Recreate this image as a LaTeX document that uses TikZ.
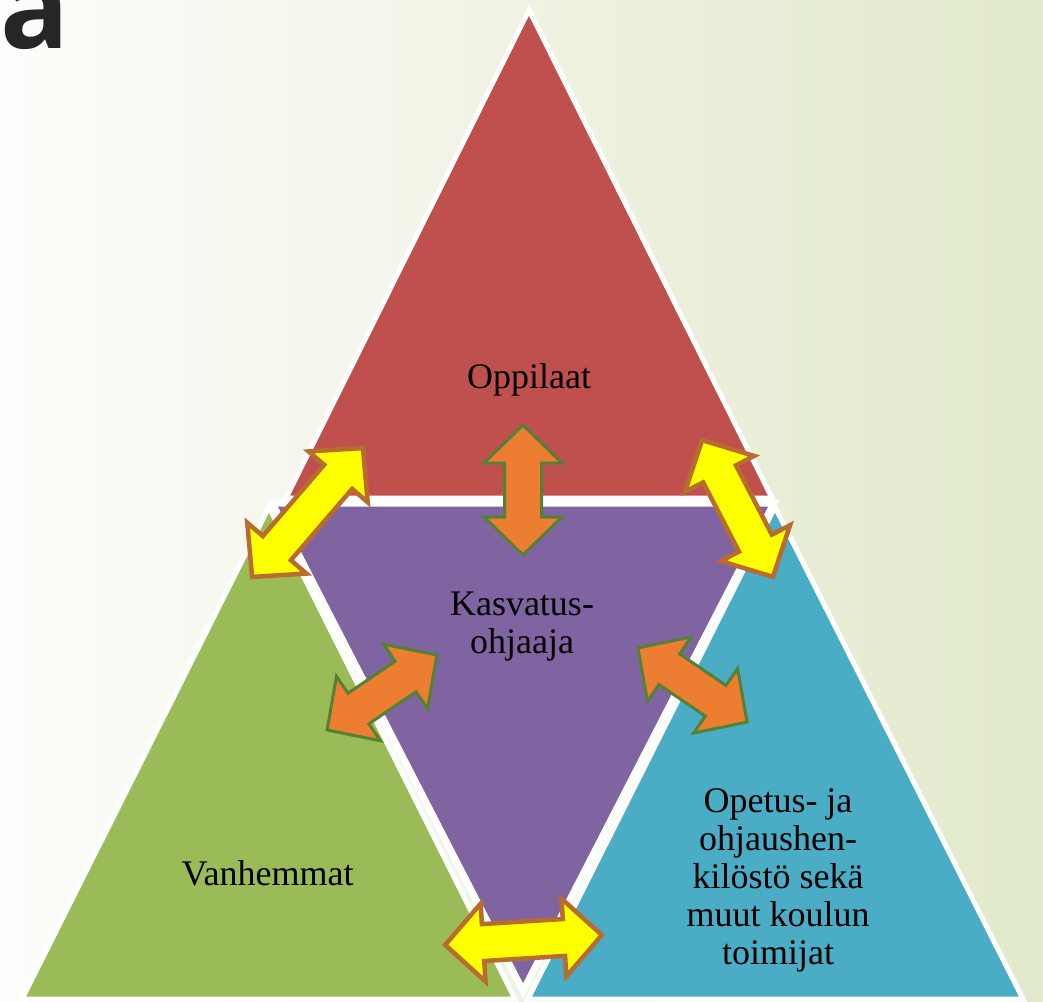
\documentclass[tikz,border=0pt]{standalone}
\usepackage{fontspec}
\setmainfont{Liberation Serif}
\newfontfamily\titlefont{Open Sans}
\definecolor{redT}{RGB}{192,80,77}
\definecolor{purpleT}{RGB}{128,100,162}
\definecolor{greenT}{RGB}{155,187,89}
\definecolor{blueT}{RGB}{75,172,198}
\definecolor{arrOrange}{RGB}{237,125,49}
\definecolor{arrGreen}{RGB}{84,130,53}
\definecolor{arrYellow}{RGB}{255,255,0}
\definecolor{arrBrown}{RGB}{184,108,46}
\definecolor{bgLeft}{RGB}{253,253,251}
\definecolor{bgRight}{RGB}{225,233,203}
\definecolor{titleGray}{RGB}{38,38,38}
\tikzset{
  tri/.style={draw=white, line width=5pt, line join=miter},
  yarrow/.style={fill=arrYellow, draw=arrBrown, line width=4.5pt, line join=miter},
  oarrow/.style={fill=arrOrange, draw=arrGreen, line width=3pt, line join=miter},
  lbl/.style={inner sep=0pt, font=\fontsize{36}{37.5}\selectfont, text=black, align=center},
  dblarr/.pic={
    \path[pic actions] ({#1/2},0) -- ({#1/2-38},39) -- ({#1/2-38},18.5)
      -- ({-#1/2+38},18.5) -- ({-#1/2+38},39) -- ({-#1/2},0)
      -- ({-#1/2+38},-39) -- ({-#1/2+38},-18.5) -- ({#1/2-38},-18.5)
      -- ({#1/2-38},-39) -- cycle;
  }
}
\begin{document}
\begin{tikzpicture}[x=1pt,y=-1pt]
\useasboundingbox (0,0) rectangle (1043,1001);
\shade[left color=bgLeft, right color=bgRight] (0,0) rectangle (1043,1001);
% title letter (cut off at the top edge, as in the reference)
\node[anchor=base west, inner sep=0pt, text=titleGray, font=\titlefont\bfseries\fontsize{114}{114}\selectfont] (title) at (0,48) {a};
% triangles
\path[tri, fill=redT] (529,10) -- (772,498) -- (286,498) -- cycle;
\path[tri, fill=greenT] (269,507) -- (515,999) -- (22,999) -- cycle;
\path[tri, fill=blueT] (775,507) -- (1023,999) -- (528,999) -- cycle;
\path[tri, line width=7pt, fill=purpleT] (272,503) -- (774,503) -- (523,991) -- cycle;
% labels
\node[lbl, anchor=base] (oppilaat) at (529,388) {Oppilaat};
\node[lbl, anchor=base] (vanhemmat) at (267.5,885) {Vanhemmat};
\node[lbl, anchor=north] (kasvatus) at (522,592) {Kasvatus-\\ohjaaja};
\node[lbl, anchor=north, font=\fontsize{36}{38}\selectfont] (opetus) at (778,788) {Opetus- ja\\ohjaushen-\\kilöstö sekä\\muut koulun\\toimijat};
% arrows
\pic[yarrow, rotate=49.3] (a1) at (307.5,512.5) {dblarr=170};
\pic[oarrow, rotate=90] (a2) at (523,490) {dblarr=130};
\pic[yarrow, rotate=-62.6] (a3) at (737.5,508.5) {dblarr=154};
\pic[oarrow, rotate=34.3] (a4) at (382,692.5) {dblarr=133};
\pic[oarrow, rotate=-34.2] (a5) at (692.5,685) {dblarr=132};
\pic[yarrow, rotate=3.6] (a6) at (523.5,940) {dblarr=157};
\end{tikzpicture}
\end{document}
